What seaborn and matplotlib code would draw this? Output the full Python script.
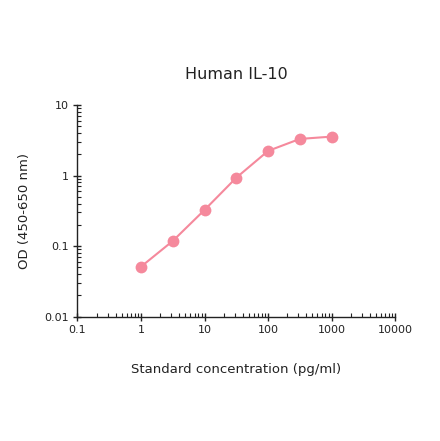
import numpy as np
import pandas as pd
import seaborn as sns
import matplotlib.pyplot as plt
from matplotlib.ticker import LogLocator, FixedLocator, FixedFormatter

concentration = [1, 3.16, 10, 31.6, 100, 316, 1000]
od_values = [0.051, 0.118, 0.325, 0.93, 2.23, 3.30, 3.56]
x_ticks = [0.1, 1, 10, 100, 1000, 10000]
x_tick_labels = ['0.1', '1', '10', '100', '1000', '10000']
y_ticks = [0.01, 0.1, 1, 10]
y_tick_labels = ['0.01', '0.1', '1', '10']

df = pd.DataFrame({'conc': concentration, 'od': od_values})

sns.set_style('ticks')
plt.rcParams['font.family'] = ['DejaVu Sans']

fig = plt.figure(figsize=(4.4, 4.41), dpi=100)
ax = fig.add_axes([0.176, 0.282, 0.722, 0.480])

color = '#F5899C'
sns.lineplot(data=df, x='conc', y='od', ax=ax, color=color, linewidth=1.5,
             marker='o', markersize=8.5, markeredgewidth=0, markeredgecolor=color)

ax.set_xscale('log')
ax.set_yscale('log')
ax.set_xlim(0.1, 10000)
ax.set_ylim(0.01, 10)

ax.xaxis.set_major_locator(FixedLocator(x_ticks))
ax.xaxis.set_major_formatter(FixedFormatter(x_tick_labels))
ax.yaxis.set_major_locator(FixedLocator(y_ticks))
ax.yaxis.set_major_formatter(FixedFormatter(y_tick_labels))
ax.xaxis.set_minor_locator(LogLocator(base=10, subs=np.arange(2, 10)))
ax.yaxis.set_minor_locator(LogLocator(base=10, subs=np.arange(2, 10)))

ax.tick_params(axis='both', which='major', direction='inout', length=6, width=1,
               color='#222222', labelsize=8, labelcolor='#222222', pad=3)
ax.tick_params(axis='both', which='minor', direction='in', length=3, width=0.8,
               color='#222222')

for side in ['top', 'right']:
    ax.spines[side].set_visible(False)
for side in ['left', 'bottom']:
    ax.spines[side].set_color('#222222')
    ax.spines[side].set_linewidth(1)

ax.set_title('Human IL-10', fontsize=11.5, color='#222222', pad=19)
ax.set_xlabel('Standard concentration (pg/ml)', fontsize=9.5, color='#222222', labelpad=20)
ax.set_ylabel('OD (450-650 nm)', fontsize=9.5, color='#222222', labelpad=10)

fig.savefig('out.png', dpi=100)
